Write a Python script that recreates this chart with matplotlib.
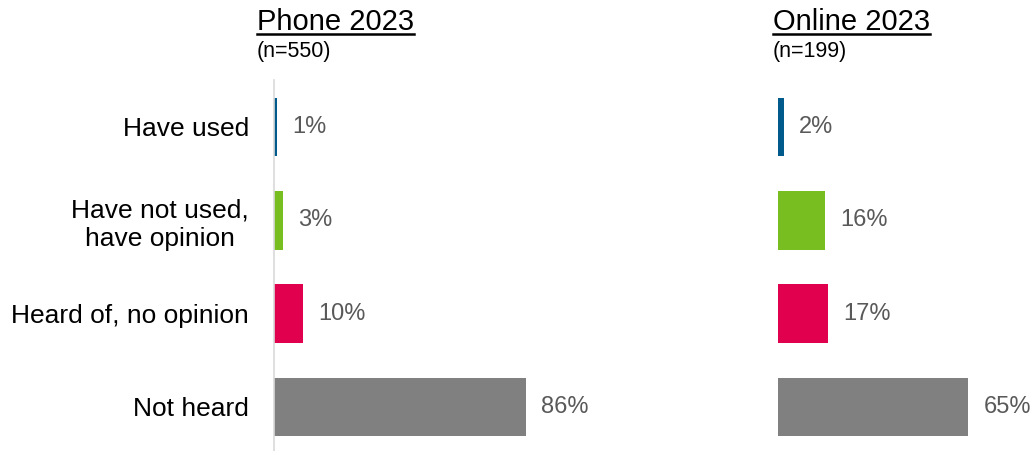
import matplotlib
matplotlib.use("Agg")
import matplotlib.pyplot as plt
from matplotlib.lines import Line2D

plt.rcParams['font.family'] = ['Liberation Sans', 'DejaVu Sans']

categories = ["Have used", "Have not used,\nhave opinion", "Heard of, no opinion", "Not heard"]
phone_values = [1, 3, 10, 86]
online_values = [2, 16, 17, 65]
panel_titles = ["Phone 2023", "Online 2023"]
panel_ns = ["(n=550)", "(n=199)"]
bar_colors = ["#005A8C", "#78BE20", "#E0004D", "#808080"]

W, H = 1034, 451
fig = plt.figure(figsize=(W / 100, H / 100), dpi=100)

px_per_pct = 2.93
ax_top_px = 80
ax_h_px = H - ax_top_px
spacing = 93.3
first_center = 127 - ax_top_px
ylim = ((H - ax_top_px - first_center) / spacing, -first_center / spacing)

def make_axes(left_px, width_px):
    ax = fig.add_axes([left_px / W, 0, width_px / W, ax_h_px / H])
    ax.set_xlim(0, width_px / px_per_pct)
    ax.set_ylim(*ylim)
    for s in ["top", "right", "bottom", "left"]:
        ax.spines[s].set_visible(False)
    ax.set_xticks([])
    ax.patch.set_alpha(0)
    return ax

ax1 = make_axes(274, 293)
ax2 = make_axes(778, 256)

ax1.spines["left"].set_visible(True)
ax1.spines["left"].set_color("#D9D9D9")
ax1.spines["left"].set_linewidth(1.2)

ypos = list(range(len(categories)))
ax1.set_yticks(ypos)
ax1.set_yticklabels(categories, fontsize=19, color="black", multialignment="center")
ax1.tick_params(axis="y", length=0, pad=18)
ax2.set_yticks([])

for ax, vals in [(ax1, phone_values), (ax2, online_values)]:
    ax.barh(ypos, vals, height=0.627, color=bar_colors)
    for y, v in zip(ypos, vals):
        ax.annotate(f"{v}%", xy=(v, y), xytext=(11, 0), textcoords="offset points",
                    ha="left", va="center", fontsize=17, color="#595959",
                    annotation_clip=False)

title_x = [257, 773]
fig.canvas.draw()
renderer = fig.canvas.get_renderer()
for tx, title, n in zip(title_x, panel_titles, panel_ns):
    t = fig.text(tx / W, (H - 30) / H, title, fontsize=21, color="black",
                 ha="left", va="baseline")
    fig.text(tx / W, (H - 57) / H, n, fontsize=15.5, color="black",
             ha="left", va="baseline")
    bb = t.get_window_extent(renderer=renderer)
    yline = (H - 34) / H
    fig.add_artist(Line2D([bb.x0 / W, bb.x1 / W], [yline, yline],
                          transform=fig.transFigure, color="black", linewidth=1.8))

fig.savefig("out.png", dpi=100)
